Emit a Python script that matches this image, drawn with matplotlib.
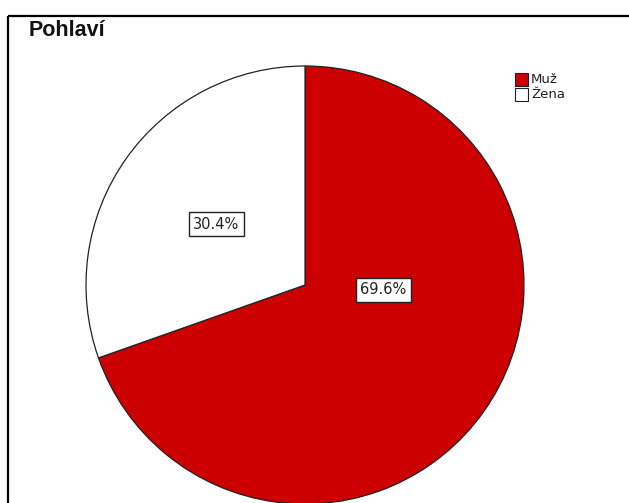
import matplotlib
matplotlib.use("Agg")
import matplotlib.pyplot as plt
from matplotlib.patches import Rectangle

title = "Pohlaví"
categories = ["Muž", "Žena"]
values = [69.6, 30.4]
colors = ["#CC0000", "#FFFFFF"]

W, H = 629, 503
fig = plt.figure(figsize=(W / 100, H / 100), dpi=100)
ax = fig.add_axes([0, 0, 1, 1])
ax.set_xlim(0, W)
ax.set_ylim(0, H)
ax.set_aspect("equal")
ax.axis("off")

# frame lines (top and left)
ax.plot([8, W], [H - 16, H - 16], color="black", lw=1.6, solid_capstyle="butt")
ax.plot([8, 8], [H - 16, 0], color="black", lw=1.6, solid_capstyle="butt")

ax.text(29, H - 30, title, fontsize=15.5, fontweight="bold",
        family="Liberation Sans", va="center", ha="left", color="#111111")

cx, cy, r = 305, H - 285, 219
wedges, _ = ax.pie(values, colors=colors, startangle=90, counterclock=False,
                   center=(cx, cy), radius=r,
                   wedgeprops=dict(edgecolor="#222222", linewidth=0.9))
ax.set_xlim(0, W)
ax.set_ylim(0, H)

# percentage labels
label_pos = [(383, H - 290), (216, H - 224)]
for v, (x, y) in zip(values, label_pos):
    ax.text(x, y, f"{v:.1f}%", fontsize=10.5, family="DejaVu Sans",
            ha="center", va="center", color="#222222",
            bbox=dict(boxstyle="square,pad=0.3", fc="white", ec="#222222", lw=1.0))

# legend
for i, (lab, c) in enumerate(zip(categories, colors)):
    y = H - 79 - i * 15
    ax.add_patch(Rectangle((515, y - 6.5), 13, 13, fc=c, ec="#222222", lw=0.8))
    ax.text(531, y, lab, fontsize=9.5, family="DejaVu Sans", va="center", ha="left",
            color="#222222")

fig.savefig("out.png", dpi=100)
